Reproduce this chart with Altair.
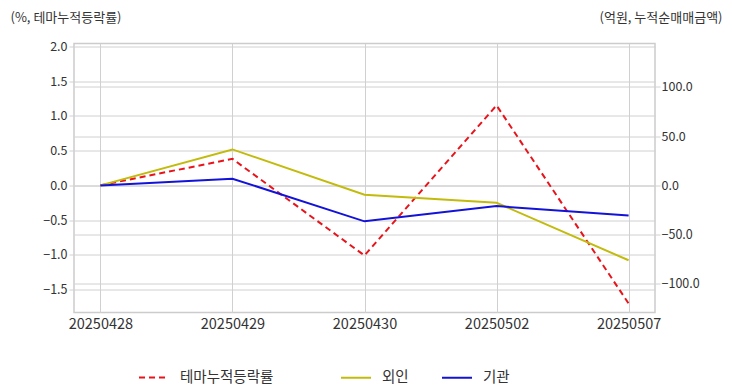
import altair as alt
import pandas as pd

dates = ["20250428", "20250429", "20250430", "20250502", "20250507"]
theme_pct = [0.0, 0.38, -1.01, 1.15, -1.70]
foreign_amt = [0.0, 36.5, -9.4, -17.6, -76.0]
inst_amt = [0.0, 6.8, -36.5, -21.0, -30.5]

theme_name = ["테마누적등락률"]
flow_names = ["외인", "기관"]
theme_color = ["#e8141b"]
flow_colors = ["#c2bb0c", "#1212d8"]

left_df = pd.DataFrame({"date": dates, "value": theme_pct, "series": theme_name[0]})
right_df = pd.concat([
    pd.DataFrame({"date": dates, "value": foreign_amt, "series": flow_names[0]}),
    pd.DataFrame({"date": dates, "value": inst_amt, "series": flow_names[1]}),
])

FONT = "Noto Sans CJK KR"
GRID = "#d0d0d0"

x_enc = alt.X("date:O", scale=alt.Scale(type="point", padding=0.2),
              axis=alt.Axis(title=None, labelAngle=0, grid=True, gridColor=GRID,
                            domain=False, ticks=False, labelPadding=5, labelFontSize=14.5))


def legend_at(x):
    return alt.Legend(title=None, orient="none", direction="horizontal",
                      legendX=x, legendY=318, symbolType="stroke",
                      symbolSize=900, symbolStrokeWidth=2, labelOffset=10,
                      columnPadding=29, labelFontSize=14.5)


left = alt.Chart(left_df).mark_line(strokeWidth=2).encode(
    x=x_enc,
    y=alt.Y("value:Q", scale=alt.Scale(domain=[-1.83, 2.04], nice=False, zero=False),
            axis=alt.Axis(orient="left", values=[-1.5, -1.0, -0.5, 0.0, 0.5, 1.0, 1.5, 2.0],
                          format=".1f", grid=True, gridColor=GRID, domain=False,
                          tickColor=GRID, tickSize=5, labelPadding=2, labelFontSize=12.5,
                          title="(%, 테마누적등락률)", titleAngle=0, titleX=-64, titleY=-26,
                          titleAlign="left", titleBaseline="middle", titleFontWeight="normal",
                          titleFontSize=13)),
    color=alt.Color("series:N", scale=alt.Scale(domain=theme_name, range=theme_color),
                    legend=legend_at(64)),
    strokeDash=alt.StrokeDash("series:N", scale=alt.Scale(domain=theme_name, range=[[6, 4]]),
                              legend=legend_at(64)),
)

right = alt.Chart(right_df).mark_line(strokeWidth=2).encode(
    x=x_enc,
    y=alt.Y("value:Q", scale=alt.Scale(domain=[-129, 144], nice=False, zero=False),
            axis=alt.Axis(orient="right", values=[-100, -50, 0, 50, 100],
                          format=".1f", grid=True, gridColor=GRID, domain=False,
                          tickColor=GRID, tickSize=5, labelPadding=1, labelFontSize=12.5,
                          title="(억원, 누적순매매금액)", titleAngle=0, titleX=67, titleY=-26,
                          titleAlign="right", titleBaseline="middle", titleFontWeight="normal",
                          titleFontSize=13)),
    color=alt.Color("series:N", scale=alt.Scale(domain=flow_names, range=flow_colors),
                    legend=legend_at(266)),
    order=alt.Order("date:O"),
)

chart = alt.layer(left, right).resolve_scale(
    y="independent", color="independent", strokeDash="independent"
).resolve_legend(color="independent", strokeDash="independent").properties(
    width=581, height=269,
    autosize=alt.AutoSizeParams(type="pad"),
    padding={"left": 2, "top": 3.5, "right": 2, "bottom": 4},
).configure(font=FONT).configure_view(stroke="#cccccc", strokeWidth=1.5).configure_axis(
    labelFont=FONT, titleFont=FONT, labelColor="#333333", titleColor="#333333"
).configure_legend(labelFont=FONT, labelColor="#333333")

chart.save("out.html", embed_options={"renderer": "svg", "actions": False})
